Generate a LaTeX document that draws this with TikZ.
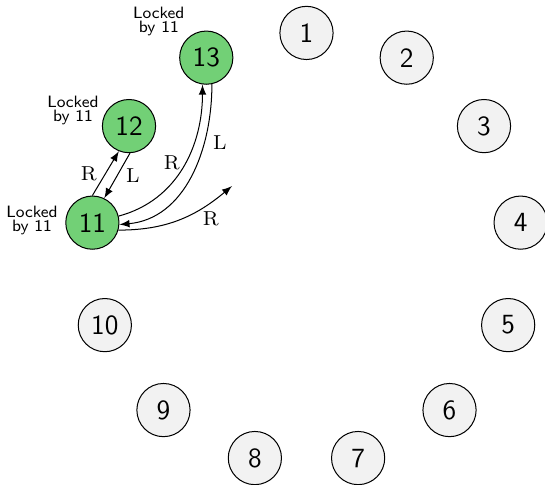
\documentclass[tikz,border=0pt]{standalone}
\usepackage{amsmath}
\usepackage{amssymb}
\usepackage{tikz}
\usetikzlibrary{positioning}

\definecolor{lockgreen}{RGB}{114,208,118}
\definecolor{freegray}{RGB}{242,242,242}

\tikzset{
  peer/.style={circle, draw, fill=freegray, minimum size=0.74cm, inner sep=0pt, font=\fontsize{11pt}{13pt}\sffamily},
  locked/.style={peer, fill=lockgreen},
  lockinfo/.style={align=center, inner sep=1pt, font=\fontsize{6.5pt}{4.2pt}\sffamily},
  lbl/.style={font=\footnotesize}
}

\begin{document}
\begin{tikzpicture}[>=latex]
        \useasboundingbox (-4.263,-3.274) rectangle (3.317,3.458);

        \node [peer] (1) at (90:3) {1};
        \node [peer] (2) at (62.31:3) {2};
        \node [peer] (3) at (34.62:3) {3};
        \node [peer] (4) at (6.92:3) {4};
        \node [peer] (5) at (-20.77:3) {5};
        \node [peer] (6) at (-48.46:3) {6};
        \node [peer] (7) at (-76.15:3) {7};
        \node [peer] (8) at (-103.85:3) {8};
        \node [peer] (9) at (-131.54:3) {9};
        \node [peer] (10) at (-159.23:3) {10};
        \node [locked] (11) at (173.08:3) {11};
        \node [locked] (12) at (145.38:3) {12};
        \node [locked] (13) at (117.69:3) {13};

        \node [lockinfo] (lock11) at ([shift={(-0.84,0.03)}]11.center) {Locked\\by 11};
        \node [lockinfo] (lock12) at ([shift={(-0.78,0.22)}]12.center) {Locked\\by 11};
        \node [lockinfo] (lock13) at ([shift={(-0.66,0.50)}]13.center) {Locked\\by 11};

        \coordinate (probe) at (-1.036,0.871);

        \draw[->] (11.90) -- node [lbl, left] {R} (12.-112);
        \draw[->] (12.-88) -- node [lbl, right] {L} (11.64);
        \draw[->] (11.14) to[out=15, in=-90] node [lbl, pos=0.45, above left, xshift=4pt, yshift=-2pt] {R} (13.-98);
        \draw[->] (13.-78) to[out=-90, in=5] node [lbl, pos=0.3, right] {L} (11.-4);
        \draw[->] (11.-16) to[out=0, in=-140] node [lbl, pos=0.8, below] {R} (probe);
      \end{tikzpicture}
\end{document}
